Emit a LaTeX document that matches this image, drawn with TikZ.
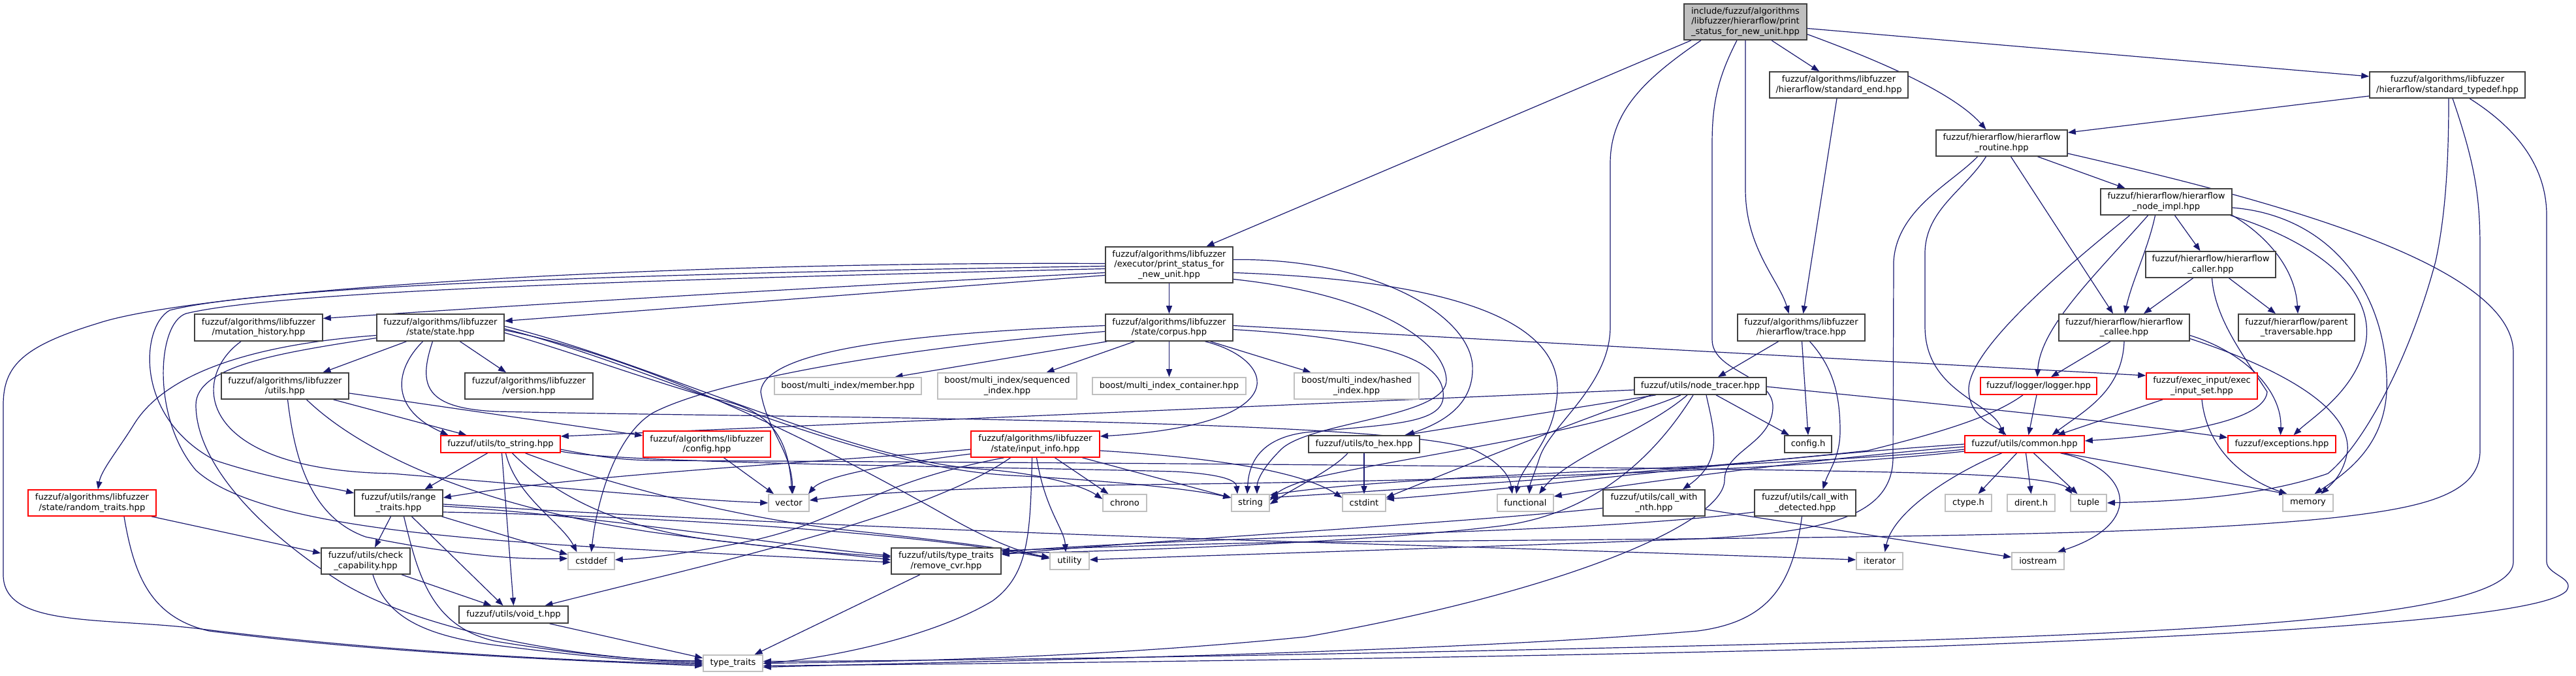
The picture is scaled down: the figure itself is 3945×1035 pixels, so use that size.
\documentclass[tikz,border=0pt]{standalone}
\usepackage{fontspec}
\setmainfont{DejaVu Sans}
\usetikzlibrary{arrows.meta}
\definecolor{edgec}{HTML}{191970}
\definecolor{bdark}{HTML}{404040}
\definecolor{bgray}{HTML}{BFBFBF}
\definecolor{bred}{HTML}{FF0000}
\pgfdeclarelayer{bgl}
\pgfdeclarelayer{edges}
\pgfsetlayers{bgl,edges,main}
\begin{document}
\begin{tikzpicture}[x=1pt,y=-1pt,
  nbase/.style={rectangle, line width=1.6pt, inner sep=0pt, align=center, font=\fontsize{13.1}{15.2}\selectfont, text=black, fill=white},
  nb/.style={nbase, draw=bdark},
  nr/.style={nbase, draw=bred},
  ns/.style={nbase, draw=bgray},
  nroot/.style={nbase, draw=bdark, fill=bgray},
  wh/.style 2 args={minimum width=#1pt, minimum height=#2pt},
  dep/.style={draw=edgec, line width=1.2pt, -{Triangle[length=12pt,width=9pt]}},
]
\useasboundingbox (0,0) rectangle (3945,1035);
\begin{pgfonlayer}{bgl}
\fill[white] (0,0) rectangle (3945,1035);
\end{pgfonlayer}

% ---------- nodes ----------
\node[nroot, wh={188}{55}] (root) at (2673,33.5) {include/fuzzuf/algorithms\\/libfuzzer/hierarflow/print\\\_status\_for\_new\_unit.hpp};
\node[nb, wh={212}{40}] (stdend) at (2816,130) {fuzzuf/algorithms/libfuzzer\\/hierarflow/standard\_end.hpp};
\node[nb, wh={238}{40}] (stdtypedef) at (3748,130) {fuzzuf/algorithms/libfuzzer\\/hierarflow/standard\_typedef.hpp};
\node[nb, wh={201}{40}] (routine) at (3065.5,219) {fuzzuf/hierarflow/hierarflow\\\_routine.hpp};
\node[nb, wh={201}{40}] (nodeimpl) at (3317.5,309) {fuzzuf/hierarflow/hierarflow\\\_node\_impl.hpp};
\node[nb, wh={195}{55}] (executor) at (1790.5,405.5) {fuzzuf/algorithms/libfuzzer\\/executor/print\_status\_for\\\_new\_unit.hpp};
\node[nb, wh={195}{41}] (corpus) at (1790.5,501.5) {fuzzuf/algorithms/libfuzzer\\/state/corpus.hpp};
\node[nb, wh={196}{41}] (muthist) at (396,501.5) {fuzzuf/algorithms/libfuzzer\\/mutation\_history.hpp};
\node[nb, wh={195}{41}] (state) at (674.5,501.5) {fuzzuf/algorithms/libfuzzer\\/state/state.hpp};
\node[nb, wh={195}{40}] (lfutils) at (436.5,591) {fuzzuf/algorithms/libfuzzer\\/utils.hpp};
\node[nb, wh={196}{40}] (version) at (810,591) {fuzzuf/algorithms/libfuzzer\\/version.hpp};
\node[nr, wh={183}{26}] (tostring) at (766.5,680) {fuzzuf/utils/to\_string.hpp};
\node[nr, wh={195}{40}] (confighpp) at (1082.5,680) {fuzzuf/algorithms/libfuzzer\\/config.hpp};
\node[ns, wh={225}{26}] (member) at (1298.5,591) {boost/multi\_index/member.hpp};
\node[ns, wh={213}{40}] (sequenced) at (1542.5,591) {boost/multi\_index/sequenced\\\_index.hpp};
\node[ns, wh={235}{26}] (container) at (1790.5,591) {boost/multi\_index\_container.hpp};
\node[ns, wh={191}{40}] (hashed) at (2077.5,591) {boost/multi\_index/hashed\\\_index.hpp};
\node[nr, wh={197}{40}] (inputinfo) at (1585.5,680) {fuzzuf/algorithms/libfuzzer\\/state/input\_info.hpp};
\node[nb, wh={195}{41}] (trace) at (2758.5,501.5) {fuzzuf/algorithms/libfuzzer\\/hierarflow/trace.hpp};
\node[nb, wh={202}{26}] (nodetracer) at (2604,591) {fuzzuf/utils/node\_tracer.hpp};
\node[nb, wh={170}{26}] (tohex) at (2089,680) {fuzzuf/utils/to\_hex.hpp};
\node[nb, wh={72}{26}] (configh) at (2769,680) {config.h};
\node[nb, wh={199}{40}] (caller) at (3385.5,405) {fuzzuf/hierarflow/hierarflow\\\_caller.hpp};
\node[nb, wh={200}{41}] (callee) at (3253,501.5) {fuzzuf/hierarflow/hierarflow\\\_callee.hpp};
\node[nb, wh={178}{41}] (parent) at (3517,501.5) {fuzzuf/hierarflow/parent\\\_traversable.hpp};
\node[nr, wh={178}{26}] (logger) at (3122,591) {fuzzuf/logger/logger.hpp};
\node[nr, wh={170}{40}] (execinput) at (3372,591) {fuzzuf/exec\_input/exec\\\_input\_set.hpp};
\node[nr, wh={183}{26}] (common) at (3100.5,680) {fuzzuf/utils/common.hpp};
\node[nr, wh={165}{26}] (exceptions) at (3494.5,680) {fuzzuf/exceptions.hpp};
\node[nr, wh={196}{40}] (randtraits) at (141,770) {fuzzuf/algorithms/libfuzzer\\/state/random\_traits.hpp};
\node[nb, wh={135}{40}] (rangetraits) at (610.5,770) {fuzzuf/utils/range\\\_traits.hpp};
\node[nb, wh={136}{40}] (checkcap) at (560,859) {fuzzuf/utils/check\\\_capability.hpp};
\node[ns, wh={71}{26}] (cstddef) at (905.5,859) {cstddef};
\node[nb, wh={167}{26}] (voidt) at (786.5,941) {fuzzuf/utils/void\_t.hpp};
\node[ns, wh={62}{26}] (vector) at (1208,770) {vector};
\node[ns, wh={67}{26}] (chrono) at (1722.5,770) {chrono};
\node[ns, wh={58}{26}] (string) at (1915,770) {string};
\node[nb, wh={168}{40}] (removecvr) at (1449,859) {fuzzuf/utils/type\_traits\\/remove\_cvr.hpp};
\node[ns, wh={60}{26}] (utility) at (1638,859) {utility};
\node[ns, wh={91}{25}] (typetraits) at (1122.5,1015.5) {type\_traits};
\node[ns, wh={66}{26}] (cstdint) at (2089,770) {cstdint};
\node[ns, wh={86}{26}] (functional) at (2336,770) {functional};
\node[nb, wh={156}{40}] (cwnth) at (2533,770) {fuzzuf/utils/call\_with\\\_nth.hpp};
\node[nb, wh={155}{40}] (cwdet) at (2764.5,770) {fuzzuf/utils/call\_with\\\_detected.hpp};
\node[ns, wh={71}{26}] (iterator) at (2878.5,859) {iterator};
\node[ns, wh={71}{26}] (ctype) at (3014.5,770) {ctype.h};
\node[ns, wh={73}{26}] (dirent) at (3110.5,770) {dirent.h};
\node[ns, wh={55}{26}] (tuple) at (3198.5,770) {tuple};
\node[ns, wh={77}{26}] (memory) at (3534.5,770) {memory};
\node[ns, wh={80}{26}] (iostream) at (3121,859) {iostream};

% ---------- edges ----------
\begin{pgfonlayer}{edges}
% root
\draw[dep] ([xshift=-83pt]root.south) -- ([xshift=57pt]executor.north);
\draw[dep] ([xshift=40pt]root.south) -- ([xshift=-30pt]stdend.north);
\draw[dep] ([yshift=-10pt]root.east) -- ([yshift=13pt]stdtypedef.west);
\draw[dep] ([yshift=-19pt]root.east) .. controls (2870,90) and (2990,140) .. ([xshift=-24pt]routine.north);
\draw[dep] (root.south) -- (2673,290) .. controls (2673,380) and (2725,430) .. ([xshift=-19pt]trace.north);
\draw[dep] ([xshift=-3pt]stdend.south) -- ([xshift=3pt]trace.north);
\draw[dep] ([xshift=-68pt]root.south) .. controls (2520,120) and (2466,170) .. (2466,250) -- (2466,500) .. controls (2466,590) and (2375,650) .. (2358,700) .. controls (2350,725) and (2343,740) .. ([xshift=6pt]functional.north);
\draw[dep] ([xshift=-13pt]root.south) .. controls (2630,120) and (2622,160) .. (2622,220) -- (2622,520) .. controls (2622,570) and (2718,575) .. (2715,625) .. controls (2712,680) and (2641,690) .. (2641,735) .. controls (2641,800) and (2400,905) .. (2000,975) .. controls (1700,1005) and (1400,1013) .. (typetraits.east);
% standard_typedef
\draw[dep] ([yshift=-17pt]stdtypedef.west) -- ([yshift=16pt]routine.east);
\draw[dep] ([xshift=2pt]stdtypedef.south) .. controls (3750,250) and (3745,330) .. (3730,400) .. controls (3690,550) and (3620,680) .. (3565,725) .. controls (3450,765) and (3300,768) .. (tuple.east);
\draw[dep] ([xshift=8pt]stdtypedef.south) .. controls (3790,250) and (3798,300) .. (3798,380) -- (3798,690) .. controls (3798,760) and (3700,778) .. (3580,792) .. controls (3300,822) and (2800,823) .. (2000,830) .. controls (1800,833) and (1620,840) .. ([yshift=16pt]removecvr.east);
\draw[dep] ([xshift=34pt]stdtypedef.south) .. controls (3860,200) and (3900,260) .. (3900,330) -- (3900,860) .. controls (3900,880) and (3945,885) .. (3930,905) .. controls (3890,945) and (3500,970) .. (2945,990) .. controls (2200,1010) and (1500,1016) .. ([yshift=-4pt]typetraits.east);
% routine
\draw[dep] ([xshift=55pt]routine.south) -- ([xshift=-63pt]nodeimpl.north);
\draw[dep] ([xshift=14pt]routine.south) -- ([xshift=-17pt]callee.north);
\draw[dep] ([xshift=-24pt]routine.south) .. controls (3010,290) and (2950,320) .. (2948,385) -- (2948,500) .. controls (2948,600) and (3050,615) .. ([xshift=-32pt]common.north);
\draw[dep] ([xshift=-37pt]routine.south) .. controls (2990,280) and (2905,320) .. (2900,400) -- (2899,700) .. controls (2899,790) and (2800,815) .. (2600,825) .. controls (2200,840) and (1800,852) .. ([yshift=2pt]utility.east);
\draw[dep] ([yshift=-16pt]routine.east) .. controls (3450,300) and (3849,400) .. (3849,540) -- (3849,860) .. controls (3849,935) and (3500,962) .. (2945,980) .. controls (2200,1000) and (1500,1012) .. ([yshift=3pt]typetraits.east);
% node_impl
\draw[dep] ([xshift=13pt]nodeimpl.south) -- ([xshift=-16pt]caller.north);
\draw[dep] ([xshift=-17pt]nodeimpl.south) .. controls (3290,380) and (3265,430) .. ([xshift=1pt]callee.north);
\draw[dep] ([xshift=-28pt]nodeimpl.south) .. controls (3210,420) and (3125,500) .. ([xshift=-2pt]logger.north);
\draw[dep] ([xshift=-56pt]nodeimpl.south) .. controls (3150,420) and (3010,540) .. (3015,600) .. controls (3018,640) and (3055,652) .. ([xshift=-28pt]common.north);
\draw[dep] (nodeimpl.south east) .. controls (3470,360) and (3515,410) .. ([xshift=2pt]parent.north);
\draw[dep] ([xshift=-3pt]nodeimpl.south east) .. controls (3560,375) and (3640,450) .. (3622,530) .. controls (3605,600) and (3540,640) .. ([xshift=18pt]exceptions.north);
\draw[dep] ([yshift=-9pt]nodeimpl.east) .. controls (3570,330) and (3660,450) .. (3655,600) .. controls (3650,680) and (3600,720) .. ([xshift=10pt]memory.north);
% caller
\draw[dep] ([xshift=-27pt]caller.south) -- ([xshift=30pt]callee.north);
\draw[dep] ([xshift=28pt]caller.south) -- ([xshift=-32pt]parent.north);
\draw[dep] ([xshift=2pt]caller.south) .. controls (3392,490) and (3440,550) .. (3472,600) .. controls (3468,650) and (3300,668) .. ([yshift=5pt]common.east);
% callee
\draw[dep] ([xshift=-21pt]callee.south) -- ([xshift=19pt]logger.north);
\draw[dep] (callee.south) .. controls (3250,600) and (3190,630) .. ([xshift=42pt]common.north);
\draw[dep] ([yshift=-12pt]callee.east) .. controls (3440,540) and (3495,600) .. ([xshift=-2pt]exceptions.north);
\draw[dep] ([yshift=-17pt]callee.east) .. controls (3480,560) and (3600,620) .. (3595,690) .. controls (3590,725) and (3570,742) .. ([xshift=20pt]memory.north);
% logger
\draw[dep] ([xshift=-3pt]logger.south) -- ([xshift=6pt]common.north);
\draw[dep] ([xshift=-24pt]logger.south) .. controls (3050,640) and (2960,665) .. (2860,690) .. controls (2500,728) and (2100,752) .. ([yshift=8pt]string.east);
% exec_input_set
\draw[dep] ([xshift=-60pt]execinput.south) -- ([xshift=50pt]common.north);
\draw[dep] (execinput.south) .. controls (3380,690) and (3440,735) .. ([xshift=-32pt]memory.north);
% common
\draw[dep] ([xshift=-12pt]common.south) -- ([xshift=15pt]ctype.north);
\draw[dep] ([xshift=2pt]common.south) -- (dirent.north);
\draw[dep] ([xshift=14pt]common.south) -- ([xshift=-17pt]tuple.north);
\draw[dep] ([xshift=55pt]common.south) .. controls (3260,715) and (3290,800) .. ([xshift=30pt]iostream.north);
\draw[dep] ([xshift=60pt]common.south) -- ([xshift=-32pt]memory.north);
\draw[dep] ([xshift=-35pt]common.south) .. controls (3000,720) and (2900,780) .. ([xshift=8pt]iterator.north);
\draw[dep] (common.west) .. controls (2700,700) and (2300,752) .. ([yshift=6pt]cstdint.east);
\draw[dep] ([yshift=-4pt]common.west) .. controls (2800,700) and (2500,740) .. ([yshift=10pt]functional.east);
\draw[dep] ([yshift=-8pt]common.west) .. controls (2750,715) and (2150,725) .. ([yshift=12pt]string.east);
\draw[dep] ([yshift=-11pt]common.west) .. controls (2700,725) and (2100,738) .. (1750,742) .. controls (1450,746) and (1300,758) .. ([yshift=4pt]vector.east);
% trace
\draw[dep] ([xshift=-35pt]trace.south) -- ([xshift=27pt]nodetracer.north);
\draw[dep] ([xshift=1pt]trace.south) -- (configh.north);
\draw[dep] ([xshift=13pt]trace.south) .. controls (2805,560) and (2818,600) .. (2818,660) .. controls (2818,700) and (2800,722) .. ([xshift=27pt]cwdet.north);
% node_tracer
\draw[dep] ([yshift=-6pt]nodetracer.west) -- ([yshift=12pt]tostring.east);
\draw[dep] ([xshift=-68pt]nodetracer.south) -- ([xshift=62pt]tohex.north);
\draw[dep] ([xshift=-75pt]nodetracer.south) .. controls (2400,650) and (2250,710) .. ([yshift=8pt]cstdint.east);
\draw[dep] ([xshift=-30pt]nodetracer.south) .. controls (2450,660) and (2150,700) .. (2020,730) .. controls (1980,740) and (1960,750) .. ([yshift=4pt]string.east);
\draw[dep] ([xshift=-20pt]nodetracer.south) .. controls (2520,660) and (2400,700) .. ([xshift=21pt]functional.north);
\draw[dep] ([xshift=-11pt]nodetracer.south) .. controls (2540,690) and (2450,785) .. (2300,805) .. controls (2100,830) and (1700,845) .. ([yshift=12pt]removecvr.east);
\draw[dep] ([xshift=9pt]nodetracer.south) .. controls (2625,660) and (2640,705) .. ([xshift=44pt]cwnth.north);
\draw[dep] ([xshift=24pt]nodetracer.south) -- ([xshift=-29pt]configh.north);
\draw[dep] ([yshift=-1pt]nodetracer.east) .. controls (2900,612) and (3200,640) .. ([yshift=10pt]exceptions.west);
% to_hex
\draw[dep] (tohex.south) -- (cstdint.north);
\draw[dep] ([xshift=-25pt]tohex.south) .. controls (2040,720) and (1985,745) .. ([yshift=-2pt]string.east);
% corpus
\draw[dep] ([xshift=-95pt]corpus.south) -- ([xshift=72pt]member.north);
\draw[dep] ([xshift=-53pt]corpus.south) -- ([xshift=60pt]sequenced.north);
\draw[dep] (corpus.south) -- (container.north);
\draw[dep] ([xshift=63pt]corpus.south) -- ([xshift=-70pt]hashed.north);
\draw[dep] ([xshift=55pt]corpus.south) .. controls (1955,550) and (1990,650) .. ([yshift=12pt]inputinfo.east);
\draw[dep] ([yshift=3pt]corpus.east) -- ([yshift=16pt]execinput.west);
\draw[dep] ([yshift=3pt]corpus.west) .. controls (1400,510) and (1170,535) .. (1165,600) .. controls (1175,660) and (1212,690) .. ([xshift=6pt]vector.north);
\draw[dep] ([yshift=-6pt]corpus.west) .. controls (1400,530) and (1100,580) .. (1000,632) .. controls (945,665) and (915,760) .. (cstddef.north);
\draw[dep] ([yshift=-3pt]corpus.east) .. controls (2150,520) and (2215,560) .. (2210,610) .. controls (2205,650) and (2120,650) .. (2000,662) .. controls (1920,672) and (1912,720) .. ([xshift=-5pt]string.north);
% executor
\draw[dep] (executor.south) -- (corpus.north);
\draw[dep] ([yshift=-12pt]executor.west) .. controls (1400,432) and (900,460) .. ([yshift=14pt]muthist.east);
\draw[dep] ([yshift=-16pt]executor.west) -- ([yshift=10pt]state.east);
\draw[dep] ([yshift=2pt]executor.west) .. controls (1000,400) and (300,445) .. (150,495) .. controls (35,530) and (5,560) .. (5,620) -- (5,880) .. controls (5,960) and (150,945) .. (300,962) .. controls (600,1000) and (900,1012) .. ([yshift=-2pt]typetraits.west);
\draw[dep] ([yshift=-2pt]executor.west) .. controls (900,420) and (400,440) .. (260,475) .. controls (215,500) and (205,640) .. (330,705) .. controls (420,735) and (500,745) .. ([yshift=15pt]rangetraits.west);
\draw[dep] ([yshift=-6pt]executor.west) .. controls (900,430) and (420,448) .. (285,480) .. controls (240,495) and (232,640) .. (300,720) .. controls (420,830) and (900,835) .. ([yshift=-2pt]removecvr.west);
\draw[dep] ([yshift=8pt]executor.east) .. controls (2100,395) and (2250,480) .. (2255,560) .. controls (2258,625) and (2200,650) .. ([xshift=65pt]tohex.north);
\draw[dep] ([yshift=-22pt]executor.east) .. controls (2100,450) and (2210,520) .. (2215,580) .. controls (2220,640) and (2000,645) .. (1960,690) .. controls (1935,715) and (1925,735) .. ([xshift=10pt]string.north);
\draw[dep] ([yshift=-12pt]executor.east) .. controls (2250,430) and (2390,500) .. (2385,600) .. controls (2380,680) and (2330,710) .. ([xshift=-14pt]functional.north);
% mutation_history
\draw[dep] ([xshift=-27pt]muthist.south) .. controls (290,580) and (300,720) .. (600,725) .. controls (900,750) and (1050,765) .. (vector.west);
% state
\draw[dep] ([yshift=-12pt]state.west) .. controls (420,525) and (260,560) .. (205,650) .. controls (180,690) and (155,720) .. ([xshift=9pt]randtraits.north);
\draw[dep] ([xshift=-52pt]state.south) -- ([xshift=58pt]lfutils.north);
\draw[dep] ([xshift=30pt]state.south) -- ([xshift=-35pt]version.north);
\draw[dep] ([xshift=-27pt]state.south) .. controls (605,565) and (595,625) .. ([xshift=-80pt]tostring.north);
\draw[dep] ([yshift=-16pt]state.west) .. controls (430,540) and (300,560) .. (300,620) .. controls (300,700) and (380,800) .. (520,890) .. controls (650,970) and (900,1010) .. ([yshift=2pt]typetraits.west);
\draw[dep] ([yshift=-8pt]state.east) .. controls (880,540) and (1000,585) .. (1100,612) .. controls (1195,630) and (1208,690) .. ([xshift=5pt]vector.north);
\draw[dep] ([yshift=-2pt]state.east) .. controls (1000,560) and (1300,715) .. (1550,728) .. controls (1700,736) and (1820,748) .. ([yshift=8pt]string.west);
\draw[dep] ([yshift=2pt]state.east) .. controls (1000,555) and (1300,705) .. (1500,718) .. controls (1600,725) and (1660,745) .. ([yshift=6pt]chrono.west);
\draw[dep] ([xshift=-12pt]state.south) .. controls (640,590) and (650,625) .. (760,630) .. controls (1200,640) and (2150,640) .. (2260,690) .. controls (2300,710) and (2312,730) .. ([xshift=-20pt]functional.north);
\draw[dep] ([yshift=-4pt]state.east) .. controls (1020,555) and (1300,705) .. (1450,790) .. controls (1520,830) and (1570,848) .. ([yshift=6pt]utility.west);
% libfuzzer utils
\draw[dep] ([yshift=-11pt]lfutils.east) -- ([yshift=13pt]confighpp.west);
\draw[dep] ([xshift=74pt]lfutils.south) -- ([xshift=-52pt]tostring.north);
\draw[dep] ([xshift=4pt]lfutils.south) .. controls (450,690) and (470,790) .. (560,822) .. controls (700,850) and (790,857) .. ([yshift=4pt]cstddef.west);
\draw[dep] ([xshift=33pt]lfutils.south) .. controls (540,680) and (700,770) .. (1000,815) .. controls (1200,842) and (1300,848) .. ([yshift=6pt]removecvr.west);
% to_string
\draw[dep] ([xshift=-20pt]tostring.south) -- ([xshift=40pt]rangetraits.north);
\draw[dep] ([xshift=2pt]tostring.south) -- (voidt.north);
\draw[dep] ([xshift=8pt]tostring.south) .. controls (790,760) and (860,800) .. ([xshift=-22pt]cstddef.north);
\draw[dep] ([xshift=18pt]tostring.south) .. controls (850,760) and (950,810) .. (1100,828) .. controls (1250,845) and (1320,852) .. ([yshift=2pt]removecvr.west);
\draw[dep] ([xshift=38pt]tostring.south) .. controls (900,730) and (1100,790) .. (1300,812) .. controls (1450,828) and (1560,842) .. ([yshift=4pt]utility.west);
\draw[dep] ([yshift=-8pt]tostring.east) .. controls (920,700) and (950,704) .. (1000,705) .. controls (2000,710) and (2800,718) .. (3000,726) .. controls (3120,731) and (3160,740) .. ([xshift=-25pt]tuple.north);
\draw[dep] ([yshift=-11pt]tostring.east) .. controls (950,710) and (1500,714) .. (1800,722) .. controls (1870,726) and (1893,735) .. ([xshift=-20pt]string.north);
% config.hpp
\draw[dep] ([xshift=26pt]confighpp.south) -- ([xshift=-23pt]vector.north);
% input_info
\draw[dep] ([yshift=-15pt]inputinfo.west) .. controls (1350,712) and (1260,730) .. ([xshift=30pt]vector.north);
\draw[dep] ([yshift=-8pt]inputinfo.west) .. controls (1300,705) and (900,725) .. ([yshift=8pt]rangetraits.east);
\draw[dep] ([xshift=-48pt]inputinfo.south) .. controls (1330,740) and (1300,795) .. (1150,828) .. controls (1050,848) and (990,855) .. ([yshift=2pt]cstddef.east);
\draw[dep] ([xshift=-38pt]inputinfo.south) .. controls (1420,790) and (1100,860) .. ([xshift=48pt]voidt.north);
\draw[dep] ([xshift=2pt]inputinfo.south) .. controls (1600,780) and (1630,810) .. ([xshift=-6pt]utility.north);
\draw[dep] ([xshift=-5pt]inputinfo.south) .. controls (1578,820) and (1575,880) .. (1520,920) .. controls (1420,980) and (1250,1010) .. (typetraits.east);
\draw[dep] ([xshift=30pt]inputinfo.south) -- ([xshift=-25pt]chrono.north);
\draw[dep] ([xshift=72pt]inputinfo.south) -- ([yshift=8pt]string.west);
\draw[dep] ([yshift=-10pt]inputinfo.east) .. controls (1850,700) and (1990,720) .. ([yshift=8pt]cstdint.west);
% range_traits
\draw[dep] ([xshift=-12pt]rangetraits.south) -- ([xshift=14pt]checkcap.north);
\draw[dep] ([xshift=20pt]rangetraits.south) -- ([xshift=-16pt]voidt.north);
\draw[dep] ([xshift=8pt]rangetraits.south) .. controls (640,880) and (660,960) .. (760,982) .. controls (900,1005) and (1000,1012) .. ([yshift=4pt]typetraits.west);
\draw[dep] ([xshift=66pt]rangetraits.south) -- ([yshift=10pt]cstddef.west);
\draw[dep] ([yshift=-5pt]rangetraits.east) .. controls (900,788) and (1200,835) .. ([yshift=8pt]removecvr.west);
\draw[dep] ([yshift=-14pt]rangetraits.east) .. controls (1000,790) and (1400,815) .. ([yshift=4pt]utility.west);
\draw[dep] ([yshift=-2pt]rangetraits.east) .. controls (1000,792) and (1500,815) .. (2000,830) .. controls (2400,842) and (2700,852) .. ([yshift=2pt]iterator.west);
% random_traits
\draw[dep] ([xshift=91pt]randtraits.south) -- ([yshift=12pt]checkcap.west);
\draw[dep] ([xshift=49pt]randtraits.south) .. controls (205,880) and (230,945) .. (320,966) .. controls (600,1002) and (900,1012) .. ([yshift=-4pt]typetraits.west);
% check_capability
\draw[dep] ([xshift=55pt]checkcap.south) -- ([xshift=-34pt]voidt.north);
\draw[dep] ([xshift=11pt]checkcap.south) .. controls (590,940) and (640,972) .. (760,988) .. controls (900,1006) and (1000,1014) .. (typetraits.west);
% void_t, remove_cvr
\draw[dep] ([xshift=55pt]voidt.south) -- ([yshift=8pt]typetraits.west);
\draw[dep] ([xshift=-40pt]removecvr.south) -- ([xshift=33pt]typetraits.north);
% call_with_nth
\draw[dep] ([yshift=-10pt]cwnth.east) -- ([yshift=6pt]iostream.west);
\draw[dep] ([yshift=-8pt]cwnth.west) .. controls (2250,800) and (1750,828) .. ([yshift=10pt]removecvr.east);
% call_with_detected
\draw[dep] ([yshift=-14pt]cwdet.west) .. controls (2500,808) and (2200,815) .. (2000,822) .. controls (1800,829) and (1640,836) .. ([yshift=14pt]removecvr.east);
\draw[dep] ([xshift=-5pt]cwdet.south) .. controls (2745,900) and (2705,952) .. (2600,966) .. controls (2200,1000) and (1500,1012) .. ([yshift=-6pt]typetraits.east);
\end{pgfonlayer}
\end{tikzpicture}
\end{document}
